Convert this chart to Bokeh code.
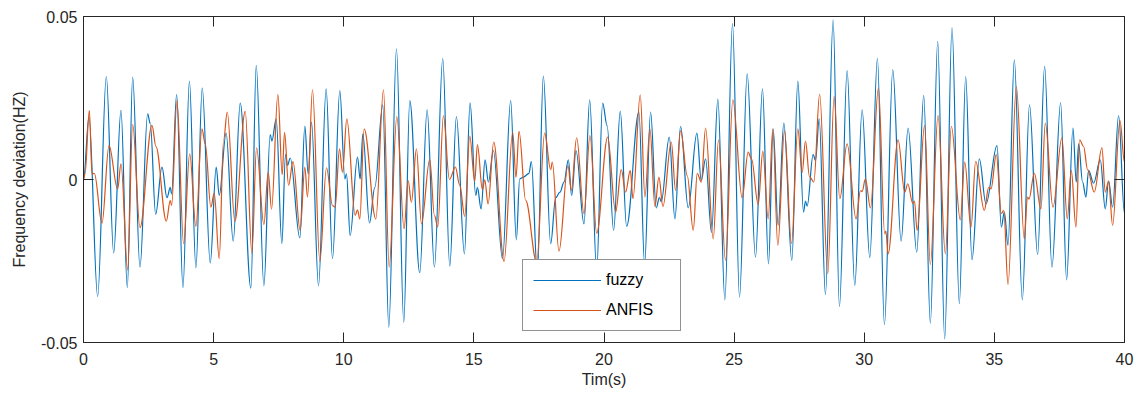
import numpy as np
from bokeh.plotting import figure
from bokeh.models import (ColumnDataSource, FixedTicker, LinearAxis, Legend, LegendItem)
from bokeh.embed import file_html
from bokeh.resources import INLINE

# ---------------- data (local extrema / kinks) ----------------
fuzzy_t = [0.0, 0.21, 0.544, 0.877, 1.159, 1.44, 1.684, 1.889, 2.17, 2.465, 2.567, 2.772, 3.015, 3.207,
           3.335, 3.386, 3.579, 3.822, 4.07, 4.319, 4.562, 4.87, 5.10, 5.215, 5.48, 5.753, 6.022, 6.432,
           6.637, 6.931, 7.174, 7.238, 7.405, 7.622, 7.763, 7.84, 7.943, 8.313, 8.505, 8.633, 8.761, 9.03,
           9.324, 9.568, 9.849, 10.041, 10.105, 10.246, 10.528, 10.63, 10.733, 10.989, 11.194, 11.5, 11.731,
           12.026, 12.306, 12.537, 12.921, 13.203, 13.484, 13.804, 14.073, 14.329, 14.637, 14.854, 15.072,
           15.136, 15.277, 15.43, 15.559, 15.75, 16.10, 16.414, 16.632, 16.76, 16.90, 17.118, 17.208, 17.44,
           17.669, 17.951, 18.143, 18.309, 18.463, 18.63, 18.757, 18.924, 19.231, 19.449, 19.718, 19.948,
           20.12, 20.369, 20.625, 20.869, 21.342, 21.56, 21.79, 22.008, 22.13, 22.2, 22.508, 22.725, 22.943,
           23.237, 23.57, 23.737, 23.903, 24.13, 24.375, 24.644, 24.938, 25.207, 25.501, 25.822, 26.09,
           26.321, 26.5, 26.692, 26.91, 27.217, 27.448, 27.665, 27.742, 27.806, 28.037, 28.126, 28.27,
           28.509, 28.804, 29.047, 29.341, 29.636, 29.918, 30.212, 30.507, 30.775, 31.096, 31.416, 31.685,
           32.017, 32.285, 32.54, 32.822, 33.091, 33.372, 33.654, 33.897, 34.14, 34.422, 34.678, 35.101,
           35.267, 35.383, 35.524, 35.767, 36.074, 36.35, 36.662, 36.931, 37.212, 37.545, 37.776, 38.019,
           38.147, 38.237, 38.39, 38.518, 38.62, 38.813, 39.069, 39.261, 39.389, 39.543, 39.773, 40.0]
fuzzy_v = [0.0, 0.0191, -0.0359, 0.0316, -0.0225, 0.0212, -0.0332, 0.0314, -0.0269, 0.0201, 0.0171, -0.0107,
           0.0038, -0.0056, -0.0024, -0.0044, 0.0261, -0.0332, 0.0302, -0.0271, 0.0280, -0.0256, 0.0038,
           -0.0049, 0.0142, -0.0189, 0.0234, -0.0333, 0.0350, -0.0326, 0.0138, 0.0118, 0.0186, -0.0197,
           0.0077, 0.0043, 0.0066, -0.0179, 0.0164, 0.0017, 0.0176, -0.0326, 0.0278, -0.0243, 0.0273,
           0.0002, 0.0017, -0.0172, 0.0069, 0.0002, 0.0140, -0.0133, -0.0024, 0.0229, -0.0453, 0.0401,
           -0.0438, 0.0242, -0.0286, 0.0214, -0.0269, 0.0372, -0.0266, 0.0193, -0.0228, 0.0235, -0.0049,
           -0.0024, -0.0090, 0.0060, -0.0008, 0.0089, -0.0243, 0.0242, -0.0185, 0.0002, 0.0007, 0.0019,
           0.0056, -0.0290, 0.0317, -0.0197, -0.0056, -0.0039, -0.0008, 0.0060, -0.0049, 0.0089, -0.0136,
           0.0244, -0.0280, 0.0234, 0.0165, -0.0156, 0.0210, -0.0144, 0.0207, -0.0260, 0.0207, -0.0087,
           -0.0055, -0.0068, 0.0130, -0.0121, 0.0163, -0.0087, 0.0142, -0.0003, 0.0063, -0.0162, 0.0247,
           -0.0369, 0.0478, -0.0361, 0.0324, -0.0238, 0.0278, -0.0259, 0.0155, -0.0141, 0.0173, -0.0248,
           0.0302, -0.0100, -0.0066, -0.0082, 0.0077, 0.0058, 0.0186, -0.0353, 0.0490, -0.0390, 0.0334,
           -0.0325, 0.0214, -0.0240, 0.0372, -0.0445, 0.0336, -0.0189, 0.0158, -0.0223, 0.0258, -0.0441,
           0.0424, -0.0489, 0.0465, -0.0381, 0.0316, -0.0246, 0.0063, -0.0075, 0.0104, -0.0146, -0.0100,
           -0.0202, 0.0367, -0.0369, 0.0229, -0.0230, 0.0347, -0.0269, 0.0235, -0.0308, 0.0158, -0.0008,
           0.0109, -0.0008, -0.0054, 0.0028, -0.0011, 0.0060, -0.0090, -0.0005, -0.0085, 0.0196, -0.0105]

anfis_t = [0.0, 0.058, 0.224, 0.327, 0.416, 0.71, 0.98, 1.312, 1.44, 1.697, 1.889, 2.17, 2.631, 2.785, 3.182,
           3.335, 3.386, 3.591, 3.848, 4.08, 4.319, 4.55, 4.678, 4.895, 5.023, 5.215, 5.382, 5.523, 5.817,
           6.214, 6.47, 6.65, 6.931, 7.097, 7.226, 7.469, 7.635, 7.725, 7.879, 8.05, 8.326, 8.505, 8.607,
           8.799, 9.081, 9.337, 9.568, 9.67, 9.836, 9.952, 10.118, 10.438, 10.528, 10.617, 10.784, 11.232,
           11.527, 11.744, 12.04, 12.319, 12.473, 12.601, 12.793, 12.985, 13.305, 13.484, 13.612, 13.83,
           14.06, 14.29, 14.457, 14.649, 14.841, 15.033, 15.136, 15.328, 15.418, 15.546, 15.763, 16.16,
           16.491, 16.619, 16.734, 16.99, 17.413, 17.72, 17.951, 18.015, 18.27, 18.616, 18.744, 18.949,
           19.231, 19.461, 19.718, 20.14, 20.446, 20.664, 20.83, 21.01, 21.112, 21.394, 21.573, 21.765,
           21.957, 22.11, 22.264, 22.585, 22.751, 22.943, 23.199, 23.43, 23.583, 23.737, 23.903, 24.198,
           24.4, 24.669, 24.951, 25.309, 25.54, 25.668, 25.924, 26.103, 26.308, 26.487, 26.679, 26.936,
           27.205, 27.448, 27.614, 27.742, 27.896, 28.062, 28.286, 28.599, 28.842, 29.06, 29.341, 29.687,
           29.854, 29.92, 30.045, 30.238, 30.545, 30.788, 30.83, 30.916, 31.3, 31.556, 31.672, 31.864,
           31.93, 32.03, 32.318, 32.54, 32.835, 33.116, 33.347, 33.692, 33.859, 34.102, 34.281, 34.614,
           34.781, 34.87, 35.075, 35.267, 35.36, 35.524, 35.844, 36.151, 36.27, 36.33, 36.534, 36.79,
           36.956, 37.251, 37.596, 37.801, 37.955, 38.134, 38.275, 38.428, 38.582, 38.838, 39.133, 39.261,
           39.389, 39.543, 39.824, 40.0]
anfis_v = [0.0, 0.0017, 0.0212, 0.0017, 0.0019, -0.0134, 0.0104, -0.0029, 0.0048, -0.0277, 0.0169, -0.0148,
           0.0166, 0.0101, -0.0128, -0.0064, -0.0080, 0.0242, -0.0197, 0.0079, -0.0144, 0.0155, 0.0109,
           -0.0085, -0.0042, -0.0243, 0.0120, 0.0207, -0.0128, 0.0209, -0.0226, 0.0097, -0.0138, 0.0022,
           -0.0091, 0.0261, 0.0015, 0.0145, -0.0018, 0.0055, -0.0156, 0.0038, -0.0054, 0.0275, -0.0251,
           0.0036, -0.0080, -0.0085, 0.0094, 0.0022, 0.0186, -0.0110, -0.0093, -0.0121, 0.0155, -0.0121,
           0.0275, -0.0269, 0.0193, -0.0151, -0.0003, -0.0070, 0.0094, -0.0136, 0.0061, -0.0110, -0.0146,
           0.0196, 0.0000, 0.0038, -0.0018, -0.0113, 0.0133, -0.0005, 0.0107, -0.0031, -0.0001, -0.0075,
           0.0115, -0.0251, 0.0145, 0.0007, 0.0148, -0.0064, -0.0254, 0.0142, 0.0030, 0.0053, -0.0220,
           0.0043, -0.0034, 0.0128, -0.0105, 0.0135, -0.0165, 0.0130, -0.0100, 0.0030, -0.0039, 0.0028,
           -0.0059, 0.0260, -0.0054, 0.0155, -0.0083, 0.0007, -0.0083, 0.0115, -0.0034, 0.0150, 0.0012,
           -0.0156, 0.0019, -0.0008, 0.0158, -0.0182, 0.0122, -0.0248, 0.0244, -0.0056, 0.0084, 0.0063,
           -0.0077, 0.0087, -0.0121, 0.0155, -0.0202, 0.0150, -0.0197, 0.0155, 0.0022, 0.0118, 0.0009,
           -0.0008, 0.0262, -0.0289, 0.0255, -0.0059, 0.0109, -0.0121, -0.0034, -0.0037, 0.0002, -0.0087,
           0.0281, -0.0167, -0.0158, -0.0228, 0.0122, -0.0039, -0.0013, -0.0073, -0.0066, -0.0156, 0.0166,
           -0.0261, 0.0196, -0.0228, 0.0163, -0.0124, 0.0053, -0.0146, 0.0056, -0.0095, -0.0024, -0.0029,
           0.0077, -0.0105, -0.0095, -0.0322, 0.0285, -0.0182, -0.0054, -0.0060, 0.0019, -0.0090, 0.0173,
           -0.0085, 0.0128, -0.0121, 0.0028, -0.0146, 0.0122, 0.0101, 0.0030, -0.0039, 0.0097, -0.0039,
           -0.0005, -0.0141, 0.0181, 0.0053]

x_ticks = [0, 5, 10, 15, 20, 25, 30, 35, 40]
x_tick_labels = ["0", "5", "10", "15", "20", "25", "30", "35", "40"]
y_ticks = [-0.05, 0, 0.05]
y_tick_labels = ["-0.05", "0", "0.05"]

series_names = ["fuzzy", "ANFIS"]
series_colors = ["#0072BD", "#D95319"]

FONT = "Liberation Sans"
AX = "#262626"


def smooth_source(t, v, k=0.36):
    """Bezier segments between successive read points, flat tangents at each point."""
    t = np.asarray(t, float)
    v = np.asarray(v, float)
    dt = np.diff(t)
    return ColumnDataSource(dict(
        x0=t[:-1], y0=v[:-1], x1=t[1:], y1=v[1:],
        cx0=t[:-1] + k * dt, cy0=v[:-1],
        cx1=t[1:] - k * dt, cy1=v[1:],
    ))


p = figure(width=1141, height=400, x_range=(0, 40), y_range=(-0.05, 0.05),
           output_backend="svg", toolbar_location=None,
           min_border_left=83, min_border_right=17, min_border_top=16, min_border_bottom=58,
           background_fill_color="white", border_fill_color="white")
p.xgrid.visible = False
p.ygrid.visible = False
p.outline_line_color = AX
p.outline_line_width = 1

renderers = []
for (t, v), col in zip([(fuzzy_t, fuzzy_v), (anfis_t, anfis_v)], series_colors):
    r = p.bezier(x0="x0", y0="y0", x1="x1", y1="y1", cx0="cx0", cy0="cy0", cx1="cx1", cy1="cy1",
                 source=smooth_source(t, v), line_color=col, line_width=1.2)
    renderers.append(r)


def style_axis(ax, ticks, labels, show_labels=True):
    ax.ticker = FixedTicker(ticks=ticks)
    ax.major_label_overrides = {tk: lb for tk, lb in zip(ticks, labels)}
    ax.major_tick_in = 10
    ax.major_tick_out = 0
    ax.minor_tick_line_color = None
    ax.major_tick_line_color = AX
    ax.axis_line_color = AX
    ax.major_label_text_font = FONT
    ax.major_label_text_color = AX
    if show_labels:
        ax.major_label_text_font_size = "16px"
    else:
        ax.major_label_text_color = None
        ax.major_label_text_font_size = "1px"
        ax.major_label_standoff = 0


xa = p.xaxis[0]
style_axis(xa, x_ticks, x_tick_labels)
xa.major_label_standoff = 10
xa.axis_label = "Tim(s)"
xa.axis_label_standoff = 3

ya = p.yaxis[0]
style_axis(ya, y_ticks, y_tick_labels)
ya.major_label_standoff = 6
ya.axis_label = "Frequency deviation(HZ)"
ya.axis_label_standoff = 10

for ax in (xa, ya):
    ax.axis_label_text_font = FONT
    ax.axis_label_text_font_size = "16px"
    ax.axis_label_text_font_style = "normal"
    ax.axis_label_text_color = AX

top_ax = LinearAxis()
style_axis(top_ax, x_ticks, x_tick_labels, show_labels=False)
p.add_layout(top_ax, "above")
right_ax = LinearAxis()
style_axis(right_ax, y_ticks, y_tick_labels, show_labels=False)
p.add_layout(right_ax, "right")

legend = Legend(items=[LegendItem(label=n, renderers=[r]) for n, r in zip(series_names, renderers)],
                location=(439, 11), margin=0, padding=10, spacing=10,
                glyph_width=68, glyph_height=20, label_height=20, label_width=64, label_standoff=5,
                label_text_font=FONT, label_text_font_size="16px", label_text_color="black",
                border_line_color=AX, border_line_width=1,
                background_fill_color="white", background_fill_alpha=1.0)
p.add_layout(legend)

open("out.html", "w").write(file_html(p, INLINE))
